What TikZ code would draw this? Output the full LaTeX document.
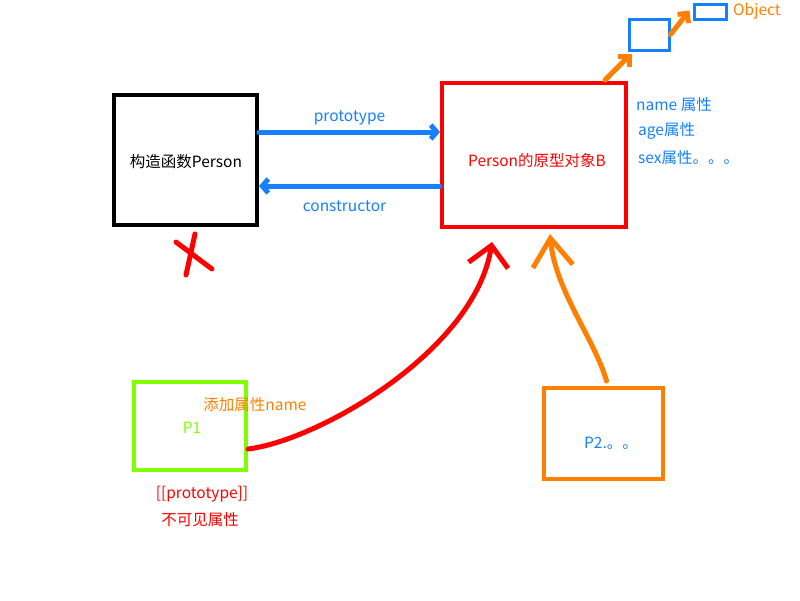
\documentclass[tikz,border=0pt]{standalone}
\usepackage{fontspec}
\setmainfont{Noto Sans CJK SC}
\usepackage{tikz}
\usetikzlibrary{shapes,arrows.meta}
\definecolor{jsblue}{RGB}{22,128,255}
\definecolor{jsred}{RGB}{255,0,0}
\definecolor{jsorange}{RGB}{255,128,0}
\definecolor{jsgreen}{RGB}{128,255,0}
\tikzstyle{box} = [draw, rectangle, line width=4pt, inner sep=0pt]
\tikzstyle{txt} = [draw=none, inner sep=0pt, font=\fontsize{15.5}{17}\selectfont]
\tikzstyle{link} = [line width=5pt, line cap=round, line join=round]

\begin{document}
\begin{tikzpicture}[x=1pt, y=-1pt]
    \useasboundingbox (0,0) rectangle (800,600);

    % constructor and prototype object
    \node [box, minimum width=143pt, minimum height=130pt, name = ctor] at (185.5,160) {};
    \node [txt, name = ctorlbl] at (186,162) {构造函数Person};
    \node [box, draw=jsred, minimum width=184pt, minimum height=144pt, name = proto] at (534,155) {};
    \node [txt, text=jsred, name = protolbl] at (537,161) {Person的原型对象B};

    \node [txt, text=jsblue, anchor=west, name = pname] at (636,105) {name 属性};
    \node [txt, text=jsblue, anchor=west, name = page] at (638,131) {age属性};
    \node [txt, text=jsblue, anchor=west, name = psex] at (638,158) {sex属性。。。};

    % chain up to Object
    \node [box, draw=jsblue, line width=3pt, minimum width=40pt, minimum height=31pt, name = up1] at (649,34.5) {};
    \node [box, draw=jsblue, line width=3pt, minimum width=32pt, minimum height=15pt, name = up2] at (710,11.5) {};
    \node [txt, text=jsorange, anchor=west, name = obj] at (733,11) {Object};

    % instances
    \node [box, draw=jsgreen, minimum width=112pt, minimum height=88pt, name = p1] at (190,426) {};
    \node [txt, text=jsgreen, name = p1lbl] at (192,428) {P1};
    \node [txt, text=jsorange, name = addname] at (255,405) {添加属性name};
    \node [txt, text=jsred, name = hidden1] at (202,494) {[[prototype]]};
    \node [txt, text=jsred, name = hidden2] at (200,520) {不可见属性};
    \node [box, draw=jsorange, minimum width=119pt, minimum height=91pt, name = p2] at (603.5,433.5) {};
    \node [txt, text=jsblue, name = p2lbl] at (611,443) {P2.。。};

    \draw [link, jsblue, -{Straight Barb[length=6pt,width=14pt]}] ([yshift=28pt]ctor.east) -- node[txt, above=4pt] {prototype} ([yshift=23pt]proto.west);
    \draw [link, jsblue, -{Straight Barb[length=6pt,width=14pt]}] ([yshift=-31pt]proto.west) -- node[txt, below=12pt, xshift=-5pt] {constructor} ([yshift=-26pt]ctor.east);

    \draw [link, jsorange, -{Straight Barb[length=8pt,width=16pt]}] ([xshift=-23pt,yshift=1pt]proto.north east) -- ([xshift=4pt,yshift=-2pt]up1.south west);
    \draw [link, jsorange, -{Straight Barb[length=7pt,width=14pt]}] (up1.east) -- ([xshift=-3pt,yshift=1pt]up2.west);

    \draw [link, jsred, -{Straight Barb[length=20pt,width=40pt]}] ([yshift=-23pt]p1.east) .. controls (320,440) and (475,350) .. ([xshift=-42pt,yshift=-13pt]proto.south);
    \draw [link, jsorange, -{Straight Barb[length=28pt,width=40pt]}] ([xshift=3pt,yshift=5pt]p2.north) .. controls (595,340) and (555,290) .. ([xshift=16pt,yshift=-5pt]proto.south);

    % crossed out
    \draw [link, jsred] (176,242) -- (212,269);
    \draw [link, jsred] (195,234) -- (186,275);

\end{tikzpicture}
\end{document}
